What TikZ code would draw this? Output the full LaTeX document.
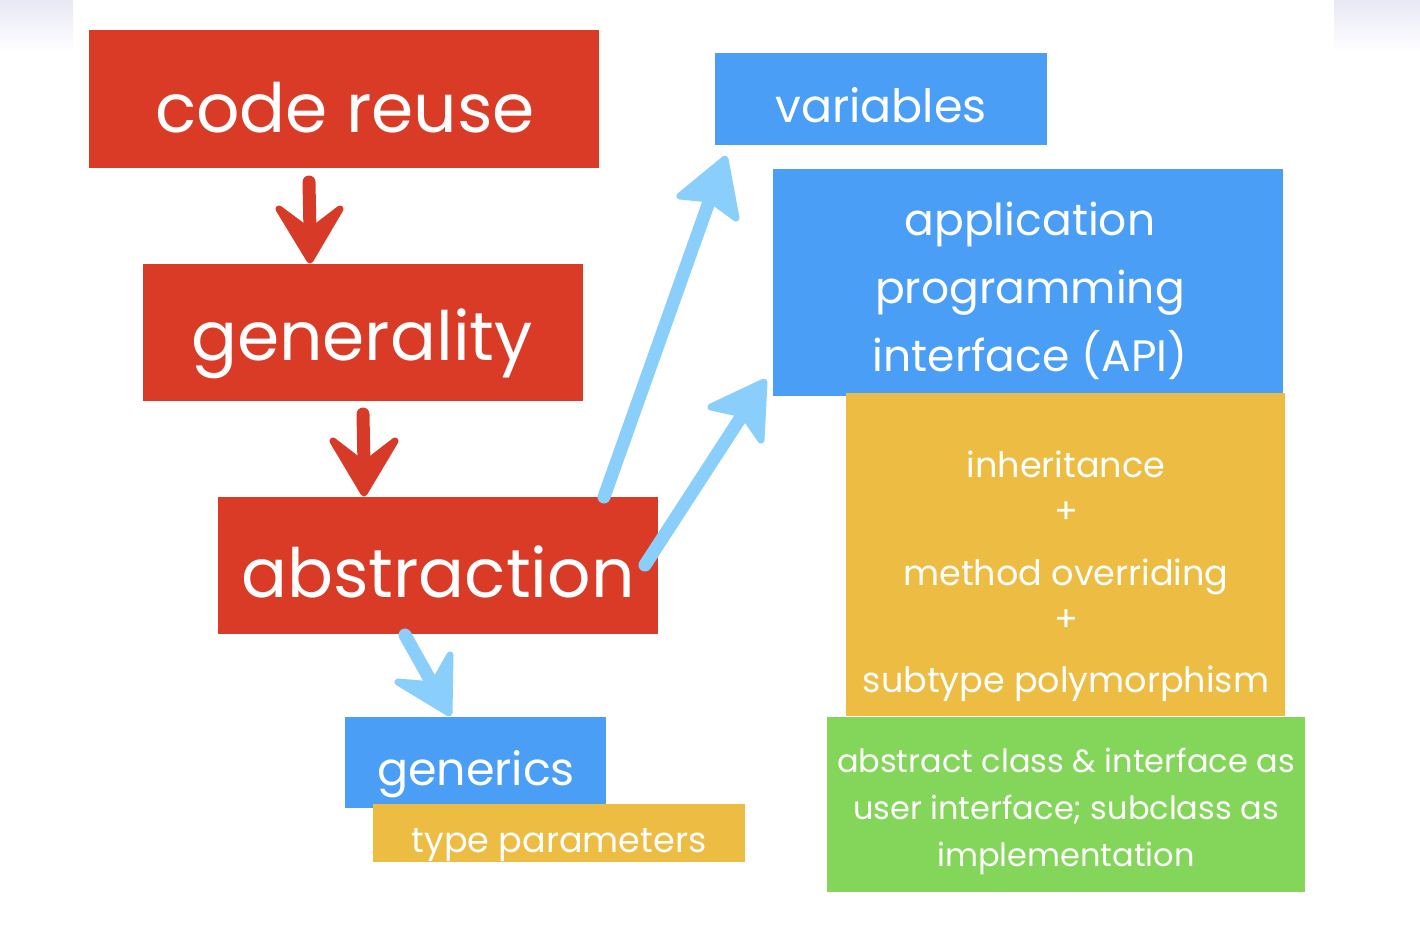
\documentclass[tikz,border=0pt]{standalone}
\usepackage{fontspec}
\setmainfont{Poppins}
\usetikzlibrary{calc}
\definecolor{boxred}{HTML}{D93B26}
\definecolor{boxblue}{HTML}{4A9EF6}
\definecolor{boxorange}{HTML}{EDBC43}
\definecolor{boxgreen}{HTML}{83D65A}
\definecolor{chalkblue}{HTML}{8ACFFC}
\definecolor{chalkred}{HTML}{D83A28}
\definecolor{haze}{HTML}{E8E8F4}
\tikzset{
  panel/.style={draw=none, inner sep=0pt, outer sep=0pt, rectangle},
  label/.style={text=white, inner sep=0pt, anchor=base},
  big/.style={label, font=\fontsize{34}{40}\selectfont},
  mid/.style={label, font=\fontsize{23}{28}\selectfont},
  apitext/.style={label, font=\fontsize{22}{26}\selectfont},
  small/.style={label, font=\fontsize{17.5}{21}\selectfont},
  tiny/.style={label, font=\fontsize{16}{19}\selectfont},
  shaft/.style={line width=6.5pt, line cap=round},
  head/.style={line width=3.5pt, line join=round},
}
% panel: name, colour, left, top, right, bottom (pixel grid, y downwards)
\newcommand{\panelbox}[6]{%
  \node[panel, fill=#2, minimum width={(#5-#3)*0.5pt}, minimum height={(#6-#4)*0.5pt}]
    (#1) at ({(#3+#5)/2},{(#4+#6)/2}) {};}
% chalk arrow: colour, start, notch, tip, left barb, right barb
\newcommand{\chalkarrow}[6]{%
  \draw[shaft, #1] (#2) -- (#3);
  \filldraw[head, draw=#1, fill=#1] (#4) -- (#5) -- (#3) -- (#6) -- cycle;}
\begin{document}
\begin{tikzpicture}[x=0.5pt, y=-0.5pt]
\useasboundingbox (0,0) rectangle (1420,934);
\fill[white] (0,0) rectangle (1420,934);
% faint haze at the top corners
\shade[top color=haze, bottom color=white] (0,0) rectangle (73,52);
\shade[top color=haze, bottom color=white] (1334,0) rectangle (1420,52);

% left column
\panelbox{reuse}{boxred}{89}{30}{599}{168}
\panelbox{gen}{boxred}{143}{264}{583}{401}
\panelbox{abs}{boxred}{218}{497}{658}{634}
\node[big] (reuse-t) at (345,132) {code reuse};
\node[big] (gen-t) at (362,360) {generality};
\node[big] (abs-t) at (438,597) {abstraction};

% generics
\panelbox{generics}{boxblue}{345}{717}{606}{808}
\panelbox{typeparams}{boxorange}{373}{804}{745}{862}
\node[mid] (generics-t) at (476,785) {generics};
\node[small] (typeparams-t) at (559,852) {type parameters};

% right column
\panelbox{vars}{boxblue}{715}{53}{1047}{145}
\node[mid] (vars-t) at (881,122) {variables};
\panelbox{api}{boxblue}{773}{169}{1283}{396}
\node[apitext] (api1) at (1030,235) {application};
\node[apitext] (api2) at (1030,303) {programming};
\node[apitext] (api3) at (1030,371) {interface (API)};
\panelbox{inh}{boxorange}{846}{393}{1285}{716}
\node[small] (inh1) at (1066,477) {inheritance};
\node[small] (inh2) at (1066,523) {+};
\node[small] (inh3) at (1066,585) {method overriding};
\node[small] (inh4) at (1066,631) {+};
\node[small] (inh5) at (1066,692) {subtype polymorphism};
\panelbox{absclass}{boxgreen}{827}{717}{1305}{892}
\node[tiny] (ac1) at (1066,772) {abstract class \& interface as};
\node[tiny] (ac2) at (1066,819) {user interface; subclass as};
\node[tiny] (ac3) at (1066,866) {implementation};

% connector end points
\coordinate (r1s) at ($(reuse.south west)+(220,14)$);
\coordinate (r1n) at (310,232);
\coordinate (r1t) at ($(gen.north west)+(167,-4)$);
\coordinate (r2s) at ($(gen.south west)+(220,13)$);
\coordinate (r2n) at (364,465);
\coordinate (r2t) at ($(abs.north west)+(146,-4)$);
\coordinate (b1s) at ($(abs.north west)+(386,0)$);
\coordinate (b1n) at (710,199);
\coordinate (b1t) at ($(vars.south west)+(10,14)$);
\coordinate (b2s) at ($(abs.north east)+(-13,68)$);
\coordinate (b2n) at (743,414);
\coordinate (b2t) at ($(api.south west)+(-9,-14)$);
\coordinate (b3s) at ($(abs.south west)+(187,1)$);
\coordinate (b3n) at (433,685);
\coordinate (b3t) at ($(generics.north west)+(104,-4)$);

% chalk arrows
\chalkarrow{chalkred}{r1s}{r1n}{r1t}{279,209}{340,209}
\chalkarrow{chalkred}{r2s}{r2n}{r2t}{333,441}{395,441}
\chalkarrow{chalkblue}{b1s}{b1n}{b1t}{680,196}{736,218}
\chalkarrow{chalkblue}{b2s}{b2n}{b2t}{711,407}{761,440}
\chalkarrow{chalkblue}{b3s}{b3n}{b3t}{398,682}{450,655}
\end{tikzpicture}
\end{document}
